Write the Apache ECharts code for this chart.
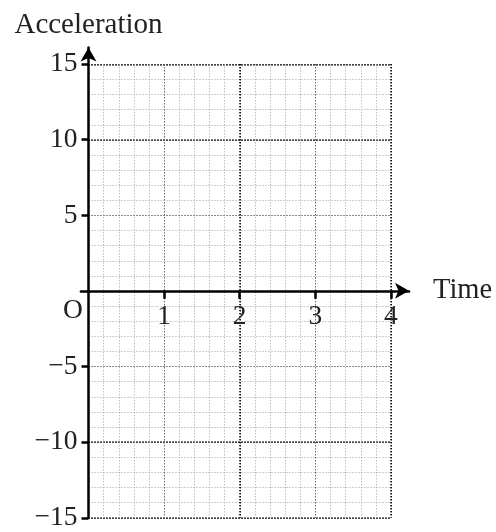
<!DOCTYPE html>
<html>
<head>
<meta charset="utf-8">
<script src="https://cdn.jsdelivr.net/npm/echarts@6/dist/echarts.min.js"></script>
<style>html,body{margin:0;padding:0;background:#fff}#c{width:496px;height:532px}</style>
</head>
<body>
<div id="c"></div>
<script>
// Axis ranges and tick values
var xRange = [0, 4];
var yRange = [-15, 15];
var xTickValues = [1, 2, 3, 4];
var xLabelValues = [0, 1, 2, 3, 4];
var yTickValues = [-15, -10, -5, 5, 10, 15];
var xMajorLines = [2, 4];
var yMajorLines = [-15, -10, 10, 15];
var xName = 'Time';
var yName = 'Acceleration';
var originLabel = 'O';

var FONT = '"Liberation Serif", "DejaVu Serif", serif';
var chart = echarts.init(document.getElementById('c'), null, {renderer: 'canvas'});

function gridAxis(gridIndex, min, max, interval, color, width, custom) {
  var a = {
    type: 'value', gridIndex: gridIndex, min: min, max: max,
    axisLine: {show: false, onZero: false}, axisLabel: {show: false},
    axisTick: {show: false},
    splitLine: {show: true, lineStyle: {color: color, width: width, type: [1, 2]}}
  };
  if (interval != null) a.interval = interval;
  if (custom) a.axisTick.customValues = custom;
  return a;
}
function hiddenAxis(gridIndex, min, max) {
  return {type: 'value', gridIndex: gridIndex, min: min, max: max, show: false,
    axisLine: {onZero: false}, splitLine: {show: false}};
}

function fmtNum(v) {
  return v < 0 ? '\u2212' + (-v) : String(v);
}

var G = {containLabel: false, outerBoundsMode: 'none'};
var option = {
  animation: false,
  grid: [
    Object.assign({left: 88.5, right: 105, top: 64.3, bottom: 14.2}, G),   // grid lines
    Object.assign({left: 88.5, right: 105, top: 47.4, bottom: 14.2}, G),   // y axis
    Object.assign({left: 80.9, right: 87, top: 47.4, bottom: 241.2}, G)    // x axis (bottom edge = value 0)
  ],
  xAxis: [
    gridAxis(0, xRange[0], xRange[1], 0.2, '#a0a0a0', 1),
    gridAxis(0, xRange[0], xRange[1], 1, '#444', 1),
    gridAxis(0, xRange[0], xRange[1], null, '#000', 2, xMajorLines),
    hiddenAxis(1, xRange[0], xRange[1]),
    {
      type: 'value', gridIndex: 2, min: -0.1, max: 4.24, z: 10, position: 'bottom',
      splitLine: {show: false},
      axisLine: {show: true, onZero: false, symbol: ['none', 'arrow'], symbolSize: [12, 14],
        lineStyle: {color: '#000', width: 2.5}},
      axisTick: {show: true, inside: false, length: 8, customValues: xTickValues,
        lineStyle: {color: '#000', width: 2.5}},
      axisLabel: {show: true, customValues: xLabelValues, margin: 11,
        formatter: function (v) { return v === 0 ? '{o|' + originLabel + '}' : '{n|' + fmtNum(v) + '}'; },
        rich: {
          o: {fontFamily: FONT, fontSize: 27.5, color: '#222', lineHeight: 18, padding: [0, 31, 0, 0]},
          n: {fontFamily: FONT, fontSize: 27.5, color: '#222', lineHeight: 30}
        }},
      name: xName, nameLocation: 'end', nameGap: 24,
      nameTextStyle: {fontFamily: FONT, fontSize: 28.5, color: '#222', padding: [8, 0, 0, 0]}
    }
  ],
  yAxis: [
    gridAxis(0, yRange[0], yRange[1], 1, '#a0a0a0', 1),
    gridAxis(0, yRange[0], yRange[1], 5, '#444', 1),
    gridAxis(0, yRange[0], yRange[1], null, '#000', 2, yMajorLines),
    {
      type: 'value', gridIndex: 1, min: -15, max: 16.1, z: 10, position: 'left',
      splitLine: {show: false},
      axisLine: {show: true, onZero: false, symbol: ['none', 'arrow'], symbolSize: [12, 14],
        lineStyle: {color: '#000', width: 2.5}},
      axisTick: {show: true, inside: false, length: 7, customValues: yTickValues,
        lineStyle: {color: '#000', width: 2.5}},
      axisLabel: {show: true, customValues: yTickValues, margin: 11,
        formatter: fmtNum, padding: [5, 0, 0, 0],
        fontFamily: FONT, fontSize: 27.5, color: '#222'},
      name: yName, nameLocation: 'end', nameGap: 8,
      nameTextStyle: {fontFamily: FONT, fontSize: 29, color: '#222'}
    },
    hiddenAxis(2, 0, 10)
  ],
  series: []
};
chart.setOption(option);
</script>
</body>
</html>
